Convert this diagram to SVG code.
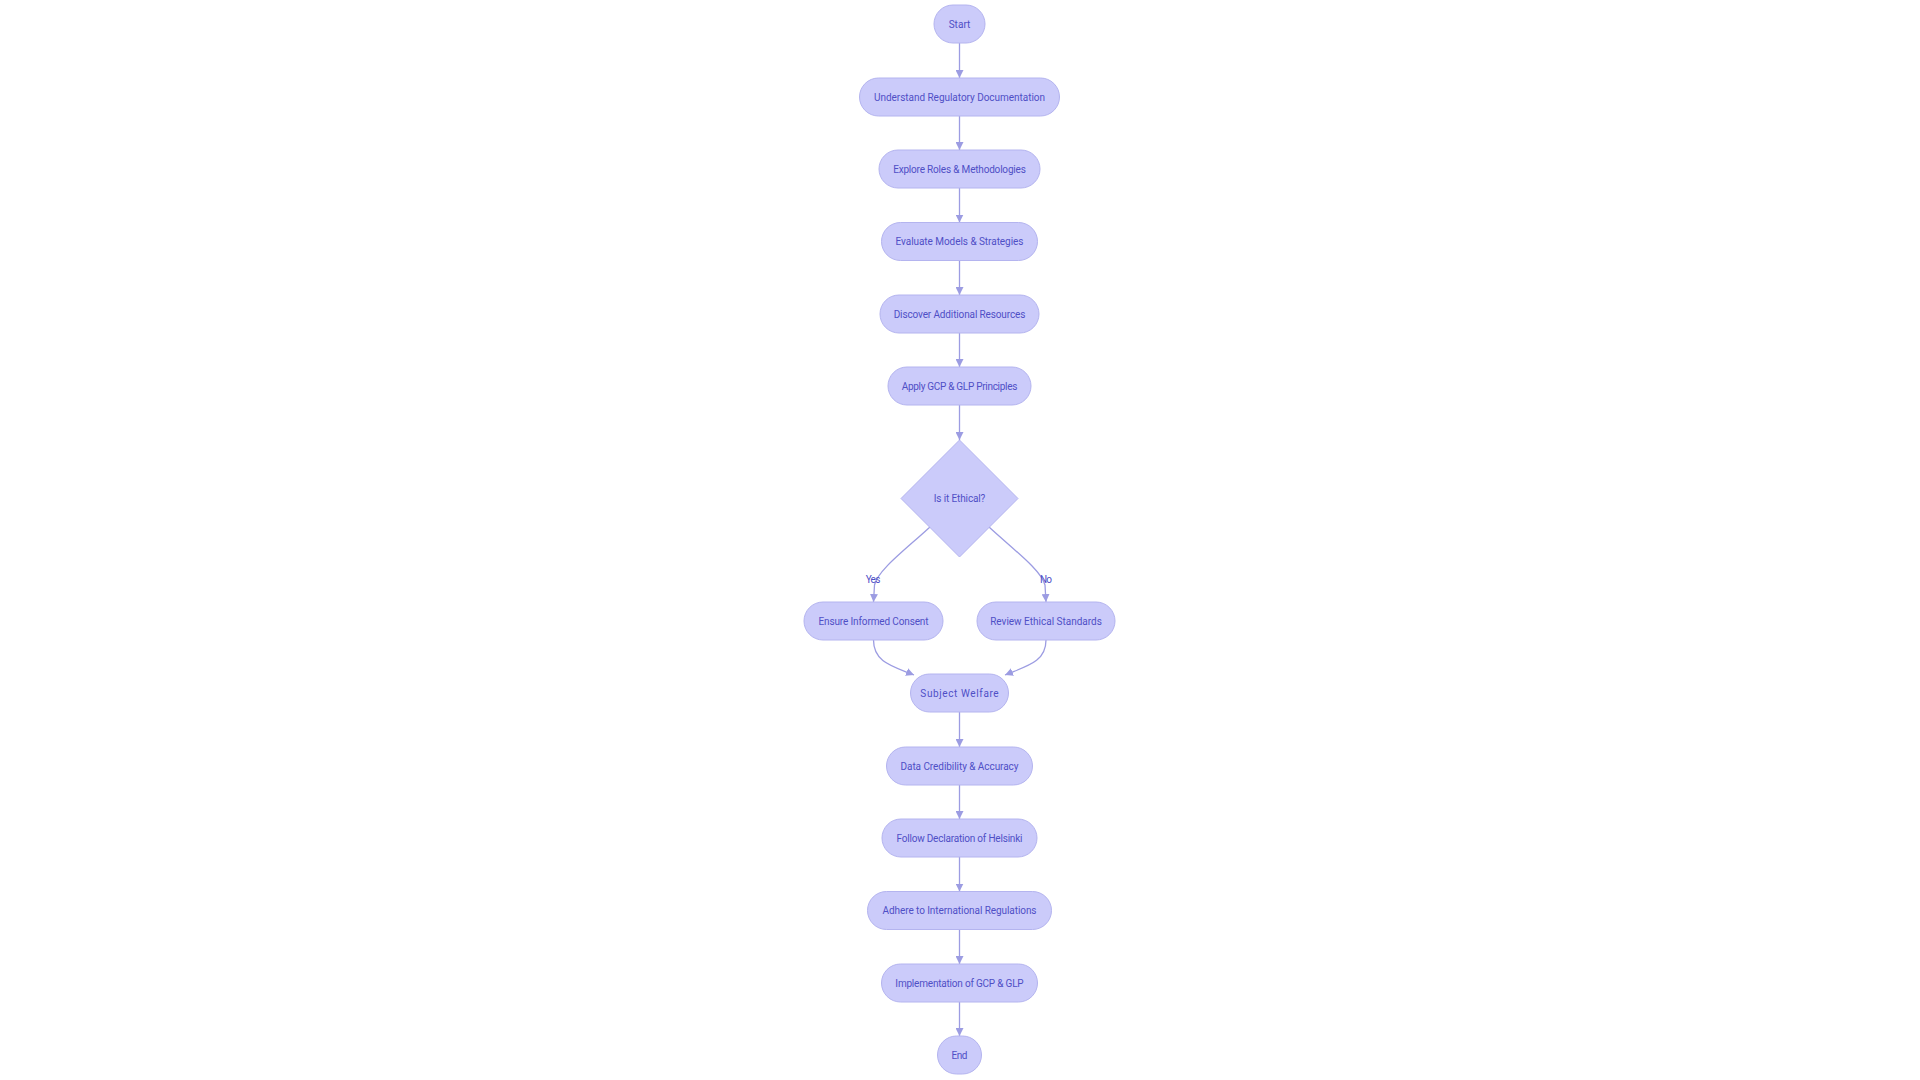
<svg xmlns="http://www.w3.org/2000/svg" width="1920" height="1080" viewBox="0 0 1920 1080">
<defs>
<style>
.n{fill:#cbcbfa;stroke:#b4b4ef;stroke-width:1}
.t{font-family:Roboto,"Liberation Sans",sans-serif;font-size:10px;fill:#4f4fc6;text-anchor:middle}
.e{fill:none;stroke:#9c9ce2;stroke-width:1.3}
.l{font-family:Roboto,"Liberation Sans",sans-serif;font-size:10px;fill:#4f4fc6;text-anchor:middle}
</style>
<marker id="ah" viewBox="0 0 10 10" refX="10" refY="5" markerWidth="8" markerHeight="8" markerUnits="userSpaceOnUse" orient="auto">
<path d="M0,0 L10,5 L0,10 z" fill="#9c9ce2"/>
</marker>
</defs>
<rect width="1920" height="1080" fill="#ffffff"/>
<g id="edges">
<path class="e" marker-end="url(#ah)" d="M959.5,43 L959.5,78"/>
<path class="e" marker-end="url(#ah)" d="M959.5,116 L959.5,150"/>
<path class="e" marker-end="url(#ah)" d="M959.5,188 L959.5,222.5"/>
<path class="e" marker-end="url(#ah)" d="M959.5,260.5 L959.5,295"/>
<path class="e" marker-end="url(#ah)" d="M959.5,333 L959.5,367"/>
<path class="e" marker-end="url(#ah)" d="M959.5,405 L959.5,440"/>
<path class="e" marker-end="url(#ah)" d="M930,527 C905,550 878,570 874.5,585 L873.5,602"/>
<path class="e" marker-end="url(#ah)" d="M989,527 C1014,550 1041,570 1045,585 L1046,602"/>
<path class="e" marker-end="url(#ah)" d="M873.5,640 C873.5,662 892,666 914,675"/>
<path class="e" marker-end="url(#ah)" d="M1046,640 C1046,662 1027,666 1005,675"/>
<path class="e" marker-end="url(#ah)" d="M959.5,712 L959.5,747"/>
<path class="e" marker-end="url(#ah)" d="M959.5,785 L959.5,819"/>
<path class="e" marker-end="url(#ah)" d="M959.5,857 L959.5,891.5"/>
<path class="e" marker-end="url(#ah)" d="M959.5,929.5 L959.5,964"/>
<path class="e" marker-end="url(#ah)" d="M959.5,1002 L959.5,1036"/>
<text class="l" x="873" y="582.5" textLength="14.7" lengthAdjust="spacing">Yes</text>
<text class="l" x="1046" y="582.5" textLength="12" lengthAdjust="spacing">No</text>
</g>
<g id="start"><rect class="n" x="934" y="5" width="51" height="38" rx="19"/><text class="t" x="959.5" y="27.5" textLength="21.7" lengthAdjust="spacing">Start</text></g>
<g id="understand"><rect class="n" x="859.5" y="78" width="200" height="38" rx="19"/><text class="t" x="959.5" y="100.5" textLength="171" lengthAdjust="spacing">Understand Regulatory Documentation</text></g>
<g id="explore"><rect class="n" x="879" y="150" width="161" height="38" rx="19"/><text class="t" x="959.5" y="172.5" textLength="132.7" lengthAdjust="spacing">Explore Roles &amp; Methodologies</text></g>
<g id="evaluate"><rect class="n" x="881.5" y="222.5" width="156" height="38" rx="19"/><text class="t" x="959.5" y="245" textLength="128" lengthAdjust="spacing">Evaluate Models &amp; Strategies</text></g>
<g id="discover"><rect class="n" x="880" y="295" width="159" height="38" rx="19"/><text class="t" x="959.5" y="317.5" textLength="131.7" lengthAdjust="spacing">Discover Additional Resources</text></g>
<g id="apply"><rect class="n" x="888" y="367" width="143" height="38" rx="19"/><text class="t" x="959.5" y="389.5" textLength="115.7" lengthAdjust="spacing">Apply GCP &amp; GLP Principles</text></g>
<g id="ethical"><polygon class="n" points="959.5,440 1018,498.5 959.5,557 901,498.5"/><text class="t" x="959.5" y="502" textLength="51.7" lengthAdjust="spacing">Is it Ethical?</text></g>
<g id="consent"><rect class="n" x="804" y="602" width="139" height="38" rx="19"/><text class="t" x="873.5" y="624.5" textLength="110" lengthAdjust="spacing">Ensure Informed Consent</text></g>
<g id="review"><rect class="n" x="977" y="602" width="138" height="38" rx="19"/><text class="t" x="1046" y="624.5" textLength="111.7" lengthAdjust="spacing">Review Ethical Standards</text></g>
<g id="welfare"><rect class="n" x="910.5" y="674" width="98" height="38" rx="19"/><text class="t" x="959.5" y="696.5" textLength="78.3" lengthAdjust="spacing">Subject Welfare</text></g>
<g id="data"><rect class="n" x="886.5" y="747" width="146" height="38" rx="19"/><text class="t" x="959.5" y="769.5" textLength="118" lengthAdjust="spacing">Data Credibility &amp; Accuracy</text></g>
<g id="helsinki"><rect class="n" x="882" y="819" width="155" height="38" rx="19"/><text class="t" x="959.5" y="841.5" textLength="126" lengthAdjust="spacing">Follow Declaration of Helsinki</text></g>
<g id="adhere"><rect class="n" x="867.5" y="891.5" width="184" height="38" rx="19"/><text class="t" x="959.5" y="914" textLength="154" lengthAdjust="spacing">Adhere to International Regulations</text></g>
<g id="implementation"><rect class="n" x="881.5" y="964" width="156" height="38" rx="19"/><text class="t" x="959.5" y="986.5" textLength="128.3" lengthAdjust="spacing">Implementation of GCP &amp; GLP</text></g>
<g id="end"><rect class="n" x="937.5" y="1036" width="44" height="38" rx="19"/><text class="t" x="959.5" y="1058.5" textLength="16" lengthAdjust="spacing">End</text></g>
</svg>
